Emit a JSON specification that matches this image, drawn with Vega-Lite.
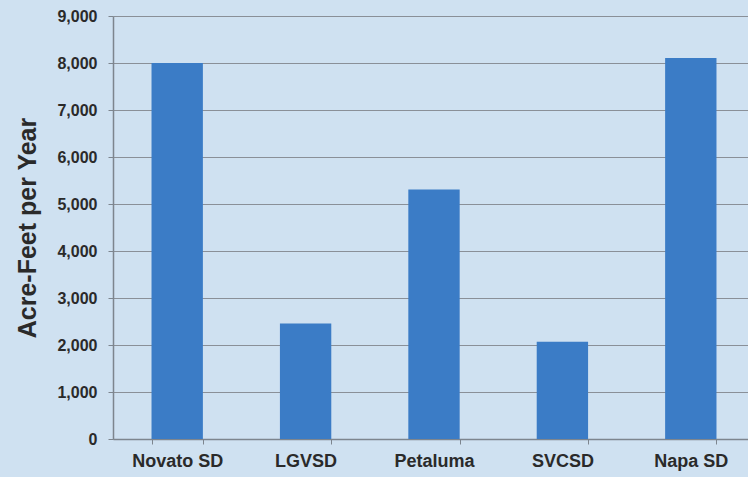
{
  "$schema": "https://vega.github.io/schema/vega-lite/v6.json",
  "autosize": "none",
  "width": 642,
  "height": 423,
  "padding": {"left": 113, "top": 16, "right": 0, "bottom": 38},
  "background": "#cfe1f1",
  "config": {
    "view": {"stroke": null},
    "font": "Liberation Sans"
  },
  "data": {
    "values": [
      {"district": "Novato SD", "afy": 8000},
      {"district": "LGVSD", "afy": 2460},
      {"district": "Petaluma", "afy": 5310},
      {"district": "SVCSD", "afy": 2070},
      {"district": "Napa SD", "afy": 8105}
    ]
  },
  "mark": {"type": "bar", "color": "#3b7cc6"},
  "encoding": {
    "x": {
      "field": "district",
      "type": "nominal",
      "sort": null,
      "scale": {"paddingInner": 0.6, "paddingOuter": 0.3},
      "axis": {
        "title": null,
        "labelAngle": 0,
        "labelFont": "Liberation Sans",
        "labelFontWeight": "bold",
        "labelFontSize": 18,
        "labelColor": "#2a2a2a",
        "labelPadding": 8,
        "tickBand": "extent",
        "tickSize": 5,
        "tickColor": "#7d858e",
        "domainColor": "#7d858e",
        "domainWidth": 1.5
      }
    },
    "y": {
      "field": "afy",
      "type": "quantitative",
      "scale": {"domain": [0, 9000]},
      "axis": {
        "title": "Acre-Feet per Year",
        "titleFont": "Liberation Sans",
        "titleFontWeight": "bold",
        "titleFontSize": 25,
        "titleColor": "#2a2a2a",
        "titlePadding": 16,
        "values": [0, 1000, 2000, 3000, 4000, 5000, 6000, 7000, 8000, 9000],
        "format": ",d",
        "labelFont": "Liberation Sans",
        "labelFontWeight": "bold",
        "labelFontSize": 16,
        "labelColor": "#2a2a2a",
        "labelPadding": 11,
        "tickSize": 5,
        "tickColor": "#7d858e",
        "domainColor": "#7d858e",
        "domainWidth": 1.5,
        "grid": true,
        "gridColor": "#8a9098",
        "gridWidth": 1.2
      }
    }
  }
}
